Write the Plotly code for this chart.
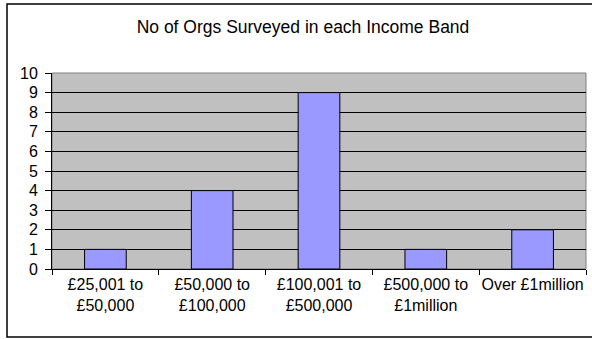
import plotly.graph_objects as go

# Income bands and number of organisations surveyed in each
bands = [
    "£25,001 to<br>£50,000",
    "£50,000 to<br>£100,000",
    "£100,001 to<br>£500,000",
    "£500,000 to<br>£1million",
    "Over £1million",
]
org_counts = [1, 4, 9, 1, 2]
y_ticks = list(range(0, 11))

FONT = "Liberation Sans, Arial, sans-serif"

W, H = 592, 339
M_L, M_R, M_T, M_B = 52, 6, 73, 70
PW, PH = W - M_L - M_R, H - M_T - M_B


def px_x(px):
    """Pixel column -> paper x."""
    return (px - M_L) / PW


def px_y(py):
    """Pixel row -> paper y."""
    return (H - M_B - py) / PH


fig = go.Figure(
    go.Bar(
        x=bands,
        y=org_counts,
        width=0.39,
        marker=dict(color="#9999FF", line=dict(color="#000000", width=1)),
        hoverinfo="x+y",
    )
)

fig.update_layout(
    width=W,
    height=H,
    margin=dict(l=M_L, r=M_R, t=M_T, b=M_B, autoexpand=False),
    paper_bgcolor="#FFFFFF",
    plot_bgcolor="#C0C0C0",
    showlegend=False,
    font=dict(family=FONT, size=16, color="#000000"),
    title=dict(
        text="No of Orgs Surveyed in each Income Band",
        font=dict(family=FONT, size=17.5, color="#000000"),
        x=303 / W,
        xanchor="center",
        y=1 - 27 / H,
        yanchor="middle",
    ),
    shapes=[
        # plot area frame
        dict(type="rect", xref="paper", yref="paper", x0=0, x1=1, y0=0, y1=1,
             line=dict(color="#808080", width=1), layer="below"),
        # chart border
        dict(type="rect", xref="paper", yref="paper",
             x0=px_x(7), x1=px_x(640), y0=px_y(337), y1=px_y(4),
             line=dict(color="#000000", width=1.5), layer="above"),
    ],
)

fig.update_xaxes(
    type="category",
    tickson="boundaries",
    ticks="outside",
    ticklen=5,
    tickcolor="#000000",
    tickangle=0,
    automargin=False,
    showline=True,
    linecolor="#000000",
    linewidth=1,
    showgrid=False,
    tickfont=dict(family=FONT, size=16, color="#000000"),
    ticklabelstandoff=1,
    fixedrange=True,
)

fig.update_yaxes(
    range=[0, 10],
    tickvals=y_ticks,
    ticks="outside",
    ticklen=6,
    tickcolor="#000000",
    automargin=False,
    showline=True,
    linecolor="#000000",
    linewidth=1,
    showgrid=True,
    gridcolor="#000000",
    gridwidth=1,
    zeroline=False,
    tickfont=dict(family=FONT, size=16, color="#000000"),
    ticklabelstandoff=4,
    fixedrange=True,
)

fig.write_html("out.html")
